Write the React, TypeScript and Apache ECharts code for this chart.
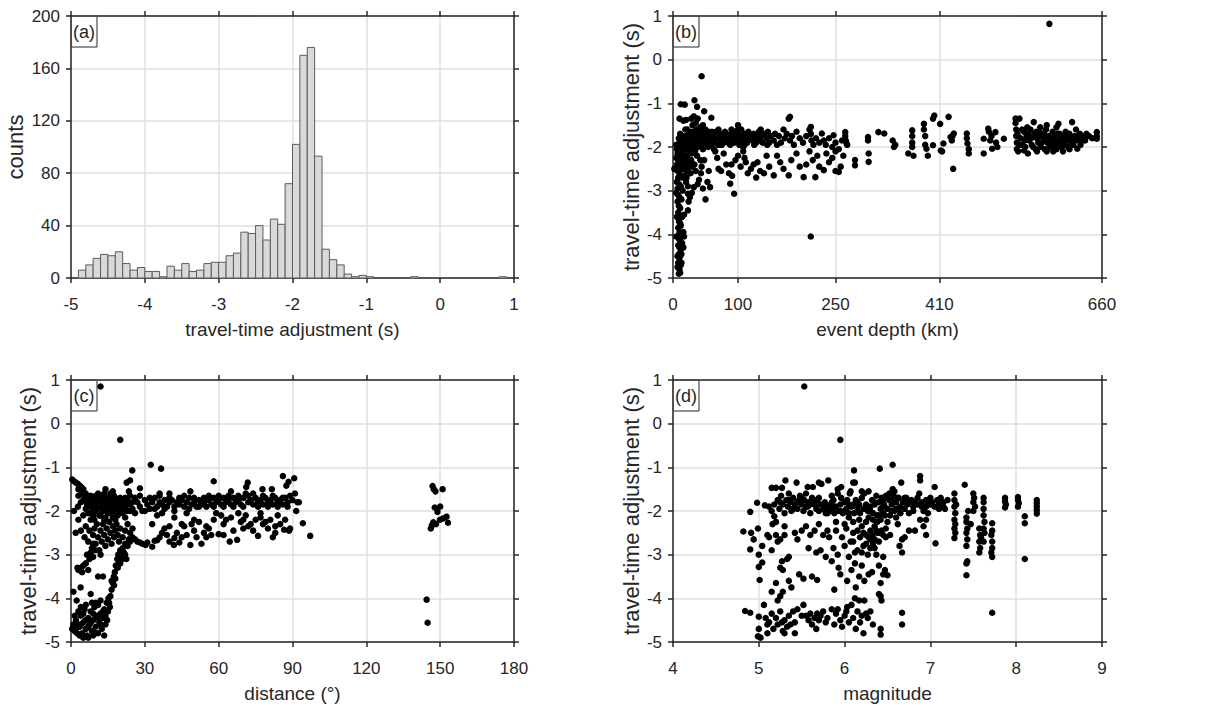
import React, { useEffect, useRef } from "react";
import * as echarts from "echarts";

// ---------- DATA ----------
const histBinLeft = [
  -5.0, -4.9, -4.8, -4.7, -4.6, -4.5, -4.4, -4.3, -4.2, -4.1,
  -4.0, -3.9, -3.8, -3.7, -3.6, -3.5, -3.4, -3.3, -3.2, -3.1,
  -3.0, -2.9, -2.8, -2.7, -2.6, -2.5, -2.4, -2.3, -2.2, -2.1,
  -2.0, -1.9, -1.8, -1.7, -1.6, -1.5, -1.4, -1.3, -1.2, -1.1,
  -1.0, -0.9, -0.8, -0.7, -0.6, -0.5, -0.4, -0.3, -0.2, -0.1,
  0.0, 0.1, 0.2, 0.3, 0.4, 0.5, 0.6, 0.7, 0.8, 0.9,
];
const histBinWidth = 0.1;
const histCounts = [
  0, 6, 10, 15, 18, 17, 20, 11, 6, 8,
  5, 5, 1, 9, 6, 11, 5, 6, 11, 12,
  12, 17, 19, 35, 34, 40, 29, 45, 41, 72,
  102, 170, 176, 93, 22, 14, 10, 3, 1, 2,
  1, 0, 0, 0, 0, 0, 1, 0, 0, 0,
  0, 0, 0, 0, 0, 0, 0, 0, 1, 0,
];

const depthTicks = [0, 100, 250, 410, 660];

// panel (b): [event depth (km), travel-time adjustment (s)]
const depthPoints = [
  [2,-2.5],[5,-1.95],[6,-2.05],[7,-2.15],[5,-2.25],[8,-2.3],[6,-2.4],[9,-2.45],[7,-2.55],[10,-2.6],[8,-2.7],[6,-2.8],[9,-2.85],[7,-2.95],[5,-3.05],[8,-3.1],[10,-3.15],[7,-3.25],[9,-3.35],[11,-3.4],[8,-3.5],[10,-3.6],[9,-3.7],[11,-3.75],[8,-3.85],[10,-3.95],[12,-4.0],[9,-4.1],[11,-4.15],[5,-4.05],[8,-4.25],[10,-4.3],[12,-4.35],[9,-4.45],[11,-4.5],[13,-4.45],[10,-4.6],[8,-4.65],[12,-4.7],[10,-4.8],[11,-4.88],[9,-4.9],[16,-4.3],[17,-4.05],[15,-4.0],[16,-3.95],[14,-3.6],[17,-3.55],[13,-3.2],[15,-3.0],[12,-2.9],[14,-2.7],[13,-2.5],[11,-2.2],[12,-2.0],[10,-1.9],[13,-1.85],[15,-2.1],[16,-2.3],[18,-2.45],[14,-2.35],[11,-1.7],[9,-1.8],[10,-1.35],[12,-1.02],[16,-1.4],[19,-1.6],
  [18,-1.75],[20,-1.9],[21,-2.05],[22,-2.2],[19,-2.0],[23,-1.8],[24,-1.95],[25,-2.1],[26,-1.7],[27,-1.85],[28,-2.0],[29,-2.15],[30,-1.75],[31,-1.9],[32,-1.65],[33,-2.05],[34,-1.8],[35,-1.95],[36,-1.6],[37,-1.75],[38,-1.9],[39,-1.7],[40,-1.85],[41,-1.6],[42,-1.8],[43,-1.95],[44,-1.7],[45,-1.85],[46,-1.65],[47,-1.8],[48,-1.9],[49,-1.75],[50,-1.6],[51,-1.85],[52,-1.7],[53,-1.95],[54,-1.8],[55,-1.65],[56,-1.9],[57,-1.75],[58,-1.85],[59,-1.7],[60,-1.8],
  [20,-2.3],[22,-2.5],[21,-2.7],[23,-2.9],[23,-3.07],[24,-3.25],[23,-3.45],[26,-3.15],[29,-3.05],[32,-2.92],[27,-2.6],[30,-2.45],[25,-2.4],[28,-2.3],[33,-2.4],[35,-2.55],[37,-2.2],[40,-2.75],[43,-2.6],[46,-2.95],[50,-3.2],[53,-2.8],[57,-2.92],[55,-2.55],[48,-2.3],[44,-2.45],[38,-2.85],[42,-2.3],[33,-0.93],[37,-1.08],[18,-1.03],[44,-0.38],[48,-1.18],[59,-1.33],[32,-1.3],[35,-1.45],[30,-1.5],[28,-1.35],[42,-1.55],[25,-1.65],[20,-1.38],[38,-1.35],[46,-1.5],
  [62,-1.75],[64,-1.9],[66,-1.65],[68,-1.8],[70,-1.95],[72,-1.7],[74,-1.85],[76,-1.75],[78,-1.9],[80,-1.8],[82,-1.7],[84,-1.85],[86,-1.75],[88,-1.95],[90,-1.7],[92,-1.8],[94,-1.9],[96,-1.75],[98,-1.85],[100,-1.5],[100,-1.6],[100,-1.7],[101,-1.8],[102,-1.95],[104,-1.75],[106,-1.85],[108,-2.0],[110,-1.7],[112,-1.8],[114,-1.9],[116,-1.65],[118,-1.8],[120,-1.75],[122,-1.85],[124,-1.7],[126,-1.8],[128,-1.9],[130,-1.75],[132,-1.65],[134,-1.85],[136,-1.75],[138,-1.9],[140,-1.7],[144,-1.8],[146,-1.65],[148,-1.9],[150,-1.75],
  [65,-2.1],[70,-2.5],[74,-2.55],[78,-2.15],[82,-2.4],[86,-2.6],[88,-2.84],[90,-2.4],[91,-2.66],[94,-3.07],[96,-2.3],[100,-2.2],[104,-2.45],[108,-2.1],[110,-2.25],[112,-2.35],[115,-2.6],[120,-2.5],[124,-2.4],[128,-2.7],[130,-2.35],[134,-2.55],[140,-2.6],[144,-2.2],[148,-2.45],[63,-2.05],[68,-2.25],
  [155,-1.85],[157,-1.7],[160,-1.95],[163,-1.75],[166,-1.9],[170,-1.6],[172,-1.8],[175,-1.7],[178,-1.35],[180,-1.31],[180,-1.85],[183,-1.75],[186,-1.95],[190,-1.65],[195,-1.8],[200,-1.9],[205,-1.75],[210,-1.6],[212,-1.54],[212,-1.7],[213,-1.85],[216,-1.95],[220,-1.8],[225,-1.9],[229,-1.69],[232,-1.85],[235,-1.95],[240,-1.8],[245,-2.0],[247,-1.73],[250,-1.9],[255,-2.05],[260,-1.85],[265,-1.66],[265,-1.75],[266,-1.85],[267,-1.92],[268,-1.95],[300,-1.77],[300,-1.85],
  [155,-2.65],[160,-2.2],[165,-2.35],[170,-2.5],[178,-2.65],[182,-2.3],[190,-2.15],[195,-2.45],[201,-2.69],[205,-2.4],[210,-2.1],[212,-4.05],[215,-2.3],[219,-2.69],[222,-2.2],[225,-2.45],[232,-2.53],[236,-2.15],[240,-2.35],[245,-2.25],[250,-2.1],[255,-2.57],[258,-2.45],[262,-2.2],[280,-2.42],[280,-2.3],[301,-2.34],[301,-2.15],[250,-2.55],
  [316,-1.66],[325,-1.69],[338,-1.85],[340,-2.0],[342,-1.95],[362,-2.15],[368,-1.62],[368,-1.75],[368,-1.9],[368,-2.0],[370,-2.2],[386,-1.47],[386,-1.6],[388,-1.75],[388,-1.95],[390,-2.04],[392,-2.2],[400,-1.35],[402,-1.28],[400,-1.96],[411,-1.47],[412,-2.08],[414,-2.1],[416,-1.92],[424,-1.31],[427,-1.77],[429,-1.85],[431,-2.5],[432,-1.69],[430,-1.75],[452,-1.69],[452,-1.8],[453,-1.92],[455,-2.15],[455,-2.05],[478,-1.81],[478,-2.15],[485,-1.58],[486,-1.65],[488,-1.85],[490,-1.75],[491,-2.04],[496,-1.66],[499,-2.0],[497,-1.9],[509,-1.81],
  [527,-1.35],[527,-1.45],[528,-1.6],[528,-1.75],[529,-1.9],[529,-2.05],[531,-2.1],[535,-1.8],[538,-1.95],[540,-1.65],[533,-1.35],[542,-2.0],[544,-1.75],[546,-2.15],[548,-1.85],[550,-1.6],[552,-1.95],[555,-1.43],[556,-1.7],[558,-2.05],[560,-1.8],[562,-1.9],[564,-1.65],[566,-2.0],[568,-1.75],[570,-1.85],[572,-2.05],[574,-1.6],[576,-1.9],[578,-1.75],[579,0.82],[580,-2.0],[582,-1.8],[584,-1.65],[586,-1.95],[588,-1.85],[590,-2.05],[592,-1.7],[593,-1.47],[594,-1.9],[596,-1.8],[598,-2.0],[600,-1.75],[602,-1.95],[604,-1.65],[606,-1.85],[608,-2.0],[610,-1.7],[612,-1.9],[614,-1.43],[615,-1.8],[618,-1.75],[620,-1.6],[622,-2.04],[624,-1.85],[626,-1.7],[628,-1.8],[632,-1.77],[634,-1.85],[636,-1.7],[652,-1.66],[652,-1.75],[652,-1.81],[560,-2.1],[575,-2.1],[545,-1.55],[565,-1.55],[585,-2.1],[600,-2.1],[540,-2.08],[610,-2.05],
  [22,-1.6],[24,-1.75],[26,-1.95],[28,-1.8],[30,-1.65],[32,-1.85],[34,-2.1],[36,-1.75],[38,-2.0],[40,-1.7],[42,-1.95],[44,-1.8],[46,-2.05],[48,-1.7],[50,-1.9],[52,-1.8],[54,-2.0],[56,-1.7],[58,-1.95],[60,-1.65],[15,-1.8],[17,-1.95],[19,-2.2],[21,-2.35],[23,-2.55],[20,-2.8],[18,-2.65],[16,-2.5],[14,-2.2],[13,-3.6],[12,-3.8],[14,-4.2],[13,-4.65],[7,-4.5],[6,-3.6],[7,-4.75],[70,-1.6],[75,-1.95],[80,-1.65],[85,-1.9],[90,-1.6],[95,-1.65],[105,-1.6],[110,-1.95],[115,-1.75],[125,-1.95],[135,-1.6],[145,-1.95],
  [530,-1.7],[534,-1.95],[537,-1.6],[541,-1.85],[547,-1.7],[551,-1.8],[554,-2.0],[559,-1.65],[563,-1.75],[567,-1.9],[571,-1.7],[575,-1.8],[579,-1.95],[583,-1.9],[587,-1.75],[591,-1.95],[595,-1.7],[599,-1.85],[603,-1.8],[607,-1.7],[611,-1.8],[616,-1.95],[619,-1.85],[623,-1.75],[627,-1.95],[630,-1.85],[640,-1.75],[645,-1.8],[575,-1.5],[590,-1.55],
];

// panel (c): [distance (deg), travel-time adjustment (s)]
const distancePoints = [
  [0.5,-1.28],[1.2,-1.32],[2,-1.35],[2.8,-1.38],[3.5,-1.42],[4.2,-1.45],[5,-1.5],[4.5,-1.6],[5.5,-1.65],[6,-1.7],[3,-1.5],[7,-1.75],[6.5,-1.85],[8,-1.8],[9,-1.75],[8.5,-1.9],[10,-1.85],[10.5,-1.7],[11,-1.95],[12,-1.8],[12.5,-1.9],[13,-1.75],[13.5,-1.6],[14,-1.85],[14.5,-1.95],[15,-1.7],[15.5,-1.8],[16,-1.9],[16.5,-1.75],[17,-2.0],[17.5,-1.65],[18,-1.85],[18.5,-1.95],[19,-1.75],[19.5,-1.85],[20,-2.0],[21,-1.8],[22,-1.9],[23,-1.75],[24,-1.85],[25,-1.95],[26,-1.7],[27,-1.8],[28,-1.9],[29,-2.0],[30,-1.75],[31,-1.85],[32,-1.95],[33,-1.8],[34,-1.7],[35,-1.9],[36,-1.8],[37,-1.85],[38,-1.75],[39,-1.9],[40,-1.8],[41,-1.75],[42,-1.9],[43,-1.8],[44,-1.85],[45,-1.75],[46,-1.9],[47,-1.8],[48,-1.7],[49,-1.85],[50,-1.8],[51,-1.9],[52,-1.75],[53,-1.85],[54,-1.8],[55,-1.9],[56,-1.75],[57,-1.85],[58,-1.7],[59,-1.8],[60,-1.75],[61,-1.85],[62,-1.7],[63,-1.8],[64,-1.75],[65,-1.85],[66,-1.7],[67,-1.8],[68,-1.75],[69,-1.85],[70,-1.7],[71,-1.6],[72,-1.8],[73,-1.75],[74,-1.85],[75,-1.7],[76,-1.8],[77,-1.75],[78,-1.85],[79,-1.7],[80,-1.8],[81,-1.75],[82,-1.85],[83,-1.7],[84,-1.8],[85,-1.75],[86,-1.85],[87,-1.7],[88,-1.8],[89,-1.65],[90,-1.75],[91,-1.6],[92,-1.8],
  [6,-1.95],[7,-2.05],[8,-1.65],[9,-2.1],[10,-2.0],[11,-1.6],[12,-2.1],[13,-2.0],[14,-2.15],[15,-2.05],[16,-1.6],[17,-2.15],[18,-2.2],[19,-2.1],[20,-1.7],[21,-2.05],[22,-2.15],[23,-2.0],[24,-1.65],[26,-2.05],[28,-1.65],[30,-2.0],[32,-1.7],[34,-1.95],[36,-1.65],[38,-1.95],[40,-1.7],[42,-2.0],[44,-1.7],[46,-1.65],[48,-1.95],[50,-1.7],[52,-1.9],[54,-1.7],[56,-1.65],[58,-1.9],[60,-1.65],[62,-1.9],[64,-1.65],[66,-1.9],[68,-1.65],[70,-1.9],[72,-1.65],[74,-1.6],[76,-1.9],[78,-1.65],[80,-1.9],[82,-1.65],[84,-1.9],[86,-1.7],[88,-1.9],
  [12,0.85],[20,-0.37],[32.4,-0.94],[36.6,-1.03],[24.9,-1.07],[22.6,-1.35],[24,-1.3],[28,-1.48],[23.5,-1.55],[58,-1.32],[71.2,-1.45],[71.8,-1.35],[77.8,-1.5],[81.6,-1.5],[48.5,-1.55],[86.1,-1.2],[88.4,-1.33],[90.7,-1.25],[87.5,-1.42],[91.5,-2.0],[92.6,-1.8],[94.2,-2.28],[97.2,-2.57],[14,-1.5],[17,-1.55],[40,-1.6],[65,-1.55],[36,-1.6],
  [1.2,-2.0],[2.8,-1.9],[1.9,-2.5],[3,-2.2],[4,-2.45],[5,-2.1],[5.5,-2.6],[6,-2.35],[7,-2.7],[7.5,-2.45],[8,-2.2],[8.5,-2.85],[9,-2.55],[9.5,-2.4],[10,-2.75],[10.5,-2.3],[11,-2.6],[11.5,-2.9],[12,-2.45],[12.5,-2.7],[13,-2.3],[13.5,-2.55],[14,-2.8],[14.5,-2.4],[15,-2.65],[15.5,-2.25],[16,-2.5],[16.5,-2.75],[17,-2.35],[17.5,-2.6],[18,-2.45],[18.5,-2.3],[19,-2.55],[19.5,-2.7],[20,-2.4],[21,-2.6],[22,-2.45],[23,-2.3],[24,-2.5],[25,-2.4],[6.5,-3.0],[7.5,-3.1],[8,-2.95],[9,-2.75],[5,-3.25],[4,-3.3],[3,-3.35],[11,-3.5],[13,-3.5],
  [14.7,-4.5],[15,-4.3],[15.5,-4.1],[16,-3.95],[16.5,-3.8],[17,-3.65],[17.4,-3.5],[17.8,-3.4],[18.2,-3.25],[18.8,-3.1],[19.2,-3.0],[19.5,-3.15],[20,-2.9],[20.5,-3.05],[21,-2.85],[21.5,-2.95],[22,-2.75],[22.5,-3.1],[23,-2.8],[23.5,-2.65],[24,-2.7],[25,-2.6],[16.5,-3.6],[17.5,-3.7],[18,-3.55],[19,-3.3],[20,-3.2],[21,-3.1],[22,-3.0],[15.8,-4.2],[15.2,-4.0],
  [26,-2.65],[27,-2.7],[28,-2.72],[29,-2.75],[30.3,-2.78],[31,-2.72],[33,-2.82],[34,-2.68],[35,-2.67],[36,-2.6],[37,-2.5],[38,-2.4],[39,-2.55],[40,-2.7],[41.8,-2.78],[42,-2.62],[43,-2.5],[44,-2.72],[45,-2.6],[46,-2.35],[47,-2.55],[48.5,-2.78],[49,-2.3],[50,-2.45],[51,-2.6],[52,-2.25],[53,-2.75],[54,-2.5],[55,-2.6],[56,-2.4],[57,-2.55],[58,-2.2],[59,-2.05],[60,-2.53],[61,-2.1],[62,-2.3],[63,-2.2],[64.5,-2.7],[65,-2.15],[66,-2.45],[67.5,-2.66],[68,-2.05],[69,-2.25],[70,-2.4],[71,-2.1],[72,-2.35],[73,-2.3],[74,-2.45],[75,-2.2],[76,-2.57],[77,-2.15],[78,-2.3],[79,-2.25],[80,-2.4],[81,-2.2],[82,-2.6],[83,-2.35],[84,-2.1],[85,-2.3],[86.6,-2.43],[87,-2.2],[88.6,-2.45],[89,-2.4],[45,-2.3],[50,-2.2],[55,-2.35],[40,-2.35],[35,-2.1],[33,-2.3],[42,-2.15],[47,-2.05],[37,-2.05],[62,-2.55],[70,-2.2],[77,-2.05],[83,-2.5],
  [0.5,-4.7],[1,-4.6],[1.5,-4.75],[2,-4.5],[2.3,-4.05],[1,-3.85],[3.9,-3.75],[2.6,-3.3],[3,-4.3],[3.5,-4.65],[4,-4.4],[4.5,-4.8],[5,-4.55],[5.5,-4.25],[6,-4.7],[6.5,-4.85],[7,-4.45],[7.5,-4.6],[8,-4.3],[8.5,-4.75],[9,-4.5],[9.5,-4.2],[10,-4.65],[10.5,-4.4],[11,-4.8],[11.5,-4.55],[12,-4.35],[12.5,-4.7],[13,-4.45],[13.5,-4.25],[14,-4.6],[14.5,-4.1],[8,-3.9],[6,-4.15],[10,-4.1],[5,-4.9],[7,-4.9],[9,-4.85],[11,-4.15],[12,-4.05],[4,-4.2],[3,-4.6],[2.5,-4.8],[13.5,-4.85],
  [146.9,-1.43],[147.4,-1.5],[148.1,-1.55],[151,-1.5],[147.8,-1.92],[150,-1.9],[148.9,-2.02],[147.2,-2.26],[146.6,-2.33],[146.2,-2.4],[149.9,-2.2],[151.2,-2.17],[152.6,-2.13],[153.2,-2.27],[144.5,-4.03],[144.9,-4.56],[148.3,-2.3],
  [5,-1.75],[6,-1.6],[7,-1.9],[8,-2.05],[9,-1.95],[10,-1.65],[11,-1.8],[12,-1.65],[13,-1.9],[14,-1.7],[15,-1.9],[16,-2.05],[17,-1.85],[18,-1.7],[19,-1.95],[20,-1.85],[21,-1.95],[22,-1.7],[23,-1.85],[24,-2.0],[25,-1.8],[3,-1.65],[4,-1.8],[9.5,-2.2],[11.5,-2.1],[13.5,-2.2],[18.5,-2.1],
  [1.5,-4.4],[2,-4.7],[4,-4.6],[5,-4.35],[6,-4.5],[7,-4.65],[8,-4.55],[9,-4.35],[10,-4.8],[11,-4.45],[12,-4.6],[13,-4.3],[8.5,-4.1],[3.5,-4.85],[14,-4.4],
  [10,-2.9],[12,-3.0],[9,-3.05],[7,-3.35],[4.5,-3.4],[6,-3.2],
];

// panel (d): [magnitude, travel-time adjustment (s)]
const magnitudePoints = [
  [5.12,-1.9],[5.15,-2.0],[5.18,-1.85],[5.2,-1.47],[5.22,-1.75],[5.24,-1.95],[5.26,-1.65],[5.27,-1.47],[5.28,-1.85],[5.3,-2.05],[5.31,-1.3],[5.32,-1.75],[5.34,-1.9],[5.35,-1.6],[5.37,-1.8],[5.38,-2.0],[5.4,-1.7],[5.42,-1.85],[5.44,-1.35],[5.45,-1.95],[5.47,-1.75],[5.48,-1.65],[5.5,-1.85],[5.52,-2.0],[5.53,-1.75],[5.55,-1.6],[5.57,-1.9],[5.58,-1.8],[5.6,-2.05],[5.62,-1.7],[5.63,-1.45],[5.65,-1.85],[5.67,-1.95],[5.68,-1.75],[5.7,-2.0],[5.72,-1.85],[5.73,-1.38],[5.75,-1.95],[5.77,-1.8],[5.78,-2.05],[5.8,-1.9],[5.81,-1.3],[5.82,-2.0],[5.84,-1.85],[5.86,-1.95],[5.87,-1.75],[5.88,-2.05],[5.9,-1.9],[5.92,-1.6],[5.93,-2.0],[5.95,-1.85],[5.96,-1.7],[5.98,-2.05],[6.0,-1.8],[6.02,-1.95],[6.03,-1.75],[6.05,-2.05],[6.06,-1.6],[6.08,-1.9],[6.1,-1.85],[6.11,-2.05],[6.12,-1.35],[6.13,-1.75],[6.15,-1.95],[6.17,-1.85],[6.18,-2.05],[6.2,-1.7],[6.22,-1.95],[6.23,-1.6],[6.25,-1.85],[6.27,-2.0],[6.28,-1.55],[6.3,-1.9],[6.32,-1.75],[6.33,-2.05],[6.35,-1.85],[6.37,-1.65],[6.38,-2.1],[6.4,-1.8],[6.42,-1.95],[6.43,-1.7],[6.45,-2.05],[6.46,-1.85],[6.48,-1.65],[6.5,-1.95],[6.52,-1.75],[6.53,-2.1],[6.55,-1.85],[6.56,-1.5],[6.57,-1.65],[6.58,-2.0],[6.6,-1.8],[6.62,-1.95],[6.63,-1.7],[6.65,-2.05],[6.66,-1.35],[6.68,-1.8],[6.7,-1.95],[6.72,-1.7],[6.73,-1.85],[6.75,-2.05],[6.78,-1.75],[6.8,-1.9],[6.82,-1.8],[6.85,-1.7],[6.87,-1.6],[6.88,-1.2],[6.88,-1.3],[6.9,-1.8],[6.92,-2.0],[6.95,-1.75],[6.97,-1.85],[7.0,-1.7],[7.02,-1.8],[7.05,-1.45],[7.05,-1.9],[7.08,-1.75],[7.1,-1.85],[7.12,-1.7],[7.15,-1.8],[7.17,-1.95],[7.2,-1.75],
  [5.25,-1.8],[5.35,-1.75],[5.45,-1.8],[5.55,-1.9],[5.65,-1.75],[5.75,-1.85],[5.85,-1.8],[5.95,-2.0],[6.05,-1.85],[6.15,-1.8],[6.25,-1.95],[6.35,-1.8],[6.45,-1.9],[6.55,-1.75],[6.65,-1.9],[6.75,-1.8],[6.85,-1.85],[6.95,-1.9],[7.1,-1.95],[6.52,-1.6],[6.58,-1.55],[6.47,-2.1],[6.6,-2.15],[6.42,-2.2],[6.5,-2.25],[6.62,-2.3],[6.48,-2.4],
  [5.53,0.85],[5.95,-0.37],[6.41,-1.03],[6.56,-0.94],[6.11,-1.07],[5.15,-1.47],[5.57,-1.45],[5.7,-1.35],[5.92,-1.5],[5.96,-1.45],[6.07,-1.55],[6.2,-1.55],[6.1,-1.35],
  [7.28,-1.6],[7.28,-1.75],[7.28,-1.9],[7.29,-2.05],[7.28,-2.2],[7.29,-2.3],[7.28,-2.4],[7.29,-2.5],[7.28,-2.62],[7.3,-1.85],
  [7.4,-1.4],[7.42,-2.15],[7.42,-2.25],[7.43,-2.4],[7.42,-2.5],[7.43,-2.65],[7.42,-2.8],[7.43,-3.15],[7.42,-3.2],[7.42,-3.47],[7.44,-2.0],
  [7.5,-1.6],[7.51,-1.7],[7.5,-1.8],[7.52,-1.9],[7.5,-2.0],[7.47,-2.3],
  [7.57,-2.4],[7.58,-2.55],[7.57,-2.7],[7.58,-2.85],[7.57,-2.95],[7.59,-2.6],
  [7.62,-1.7],[7.62,-1.8],[7.62,-1.95],[7.62,-2.1],[7.63,-2.25],[7.62,-2.4],[7.63,-2.5],[7.62,-2.7],
  [7.72,-2.28],[7.72,-2.45],[7.71,-2.55],[7.72,-2.7],[7.72,-2.85],[7.71,-2.95],[7.72,-3.05],[7.72,-4.33],
  [7.87,-1.7],[7.87,-1.78],[7.88,-1.85],[7.87,-1.92],
  [8.02,-1.68],[8.02,-1.75],[8.03,-1.82],[8.02,-1.9],
  [8.1,-2.12],[8.1,-2.28],[8.1,-3.1],
  [8.24,-1.75],[8.24,-1.82],[8.24,-1.9],[8.24,-1.98],[8.24,-2.06],
  [6.95,-2.2],[6.92,-2.35],[6.95,-2.55],[7.06,-2.74],[6.88,-2.2],[6.97,-2.05],[6.82,-2.45],[6.75,-2.45],[6.7,-2.6],[6.67,-2.65],[6.64,-2.8],[6.67,-2.95],
  [4.82,-2.47],[4.84,-4.29],[4.9,-4.33],[4.9,-2.02],[4.91,-2.5],[4.9,-2.88],[4.94,-2.65],[4.98,-1.81],[4.99,-2.4],[5.0,-3.0],[5.0,-3.28],[5.01,-3.58],[4.99,-4.87],[5.0,-4.7],[5.0,-4.42],[5.06,-4.15],[5.04,-3.18],[5.04,-2.8],[5.07,-1.87],[5.1,-2.55],[5.12,-2.6],[5.15,-2.9],[5.16,-2.3],[5.18,-2.12],[5.2,-2.55],[5.22,-2.7],[5.25,-2.65],[5.27,-3.15],[5.28,-3.35],[5.25,-3.3],[5.15,-3.85],[5.2,-3.65],[5.22,-4.05],[5.25,-3.95],[5.28,-3.85],[5.33,-3.1],[5.35,-3.05],[5.35,-3.6],[5.38,-3.75],[5.3,-2.55],[5.3,-2.35],[5.2,-2.25],
  [5.42,-2.5],[5.45,-2.65],[5.47,-3.45],[5.5,-2.45],[5.52,-3.55],[5.55,-2.35],[5.58,-2.85],[5.6,-2.55],[5.62,-3.5],[5.65,-2.45],[5.67,-2.95],[5.68,-3.58],[5.7,-2.3],[5.72,-2.9],[5.75,-2.55],[5.78,-3.05],[5.8,-2.45],[5.82,-2.6],[5.85,-3.15],[5.87,-2.85],[5.88,-3.8],[5.9,-2.45],[5.92,-3.0],[5.93,-3.3],[5.95,-3.45],[5.97,-2.6],[6.0,-2.8],[6.02,-2.4],[6.03,-3.6],[6.05,-3.05],[6.07,-2.7],[6.08,-3.35],[6.1,-2.5],[6.12,-3.2],[6.13,-3.75],[6.15,-2.9],[6.17,-3.5],[6.18,-2.6],[6.2,-3.25],[6.22,-2.8],[6.23,-3.6],[6.25,-2.55],[6.27,-3.0],[6.28,-3.45],[6.3,-2.65],[6.32,-3.4],[6.33,-2.75],[6.35,-2.85],[6.37,-3.0],[6.38,-2.5],[6.4,-3.25],[6.42,-3.65],[6.43,-2.45],[6.45,-3.05],[6.47,-3.35],[6.48,-2.6],[6.5,-3.47],[6.53,-2.55],[6.1,-2.25],[6.2,-2.35],[6.3,-2.45],[6.0,-2.3],[5.9,-2.25],[6.25,-2.25],[6.35,-2.35],[6.4,-2.5],
  [5.08,-4.45],[5.1,-4.6],[5.1,-4.8],[5.12,-4.55],[5.15,-4.35],[5.17,-4.7],[5.2,-4.45],[5.22,-4.6],[5.25,-4.3],[5.27,-4.55],[5.28,-4.75],[5.3,-4.5],[5.33,-4.65],[5.35,-4.4],[5.37,-4.6],[5.4,-4.3],[5.42,-4.55],[5.42,-4.8],[5.45,-4.25],[5.5,-4.4],[5.52,-4.15],[5.55,-4.4],[5.58,-4.5],[5.6,-4.35],[5.62,-4.6],[5.65,-4.45],[5.67,-4.7],[5.68,-4.35],[5.7,-4.5],[5.72,-4.4],[5.75,-4.3],[5.78,-4.55],[5.8,-4.45],[5.85,-4.25],[5.88,-4.6],[5.9,-4.35],[5.92,-4.25],[5.95,-4.5],[5.97,-4.65],[6.0,-4.4],[6.02,-4.3],[6.03,-4.2],[6.05,-4.55],[6.08,-4.15],[6.1,-4.45],[6.12,-4.0],[6.13,-4.7],[6.15,-4.3],[6.17,-4.05],[6.18,-4.55],[6.2,-4.4],[6.22,-4.8],[6.23,-4.05],[6.25,-4.35],[6.27,-4.45],[6.3,-4.3],[6.33,-4.6],[6.4,-3.9],[6.42,-3.95],[6.43,-4.05],[6.42,-4.7],[6.42,-4.83],[6.67,-4.33],[6.67,-4.6],[6.45,-3.45],[5.3,-4.8],[5.02,-4.9],
  [6.05,-2.15],[6.1,-2.7],[6.12,-2.95],[6.15,-2.45],[6.17,-2.2],[6.2,-2.95],[6.22,-2.5],[6.25,-2.75],[6.28,-2.6],[6.3,-2.85],[6.32,-2.55],[6.35,-2.65],[6.37,-2.45],[6.4,-2.7],[6.45,-2.55],[6.28,-2.15],[6.33,-2.2],[6.38,-2.25],[6.55,-2.0],[6.6,-1.95],[6.62,-1.7],[6.5,-1.7],[6.45,-1.75],[6.4,-2.1],[5.4,-1.95],[5.5,-1.7],[5.6,-1.85],[5.7,-1.7],[5.8,-2.05],[5.85,-1.65],[6.0,-2.0],[6.3,-2.0],[6.7,-1.7],[6.8,-2.0],[6.9,-1.9],[7.0,-1.85],[7.15,-1.9],
];

// ---------- STYLE ----------
const FONT = "'Liberation Sans', Arial, Helvetica, sans-serif";
const INK = "#262626";
const GRIDC = "#dfdfdf";

const grids = [
  { left: 71, top: 16, width: 443, height: 262 },
  { left: 673, top: 16, width: 429, height: 262 },
  { left: 71, top: 380, width: 443, height: 262 },
  { left: 673, top: 380, width: 429, height: 262 },
];

function xPair(gi: number, min: number, max: number, interval: number | undefined, name: string, custom?: number[]) {
  const base: any = {
    type: "value", gridIndex: gi, min, max, interval,
    axisLine: { show: true, onZero: false, lineStyle: { color: INK, width: 1.5 } },
    axisTick: { show: true, inside: false, length: 5, lineStyle: { color: INK, width: 1.5 } },
    splitLine: { show: true, lineStyle: { color: GRIDC, width: 1.5 } },
  };
  if (custom) {
    base.axisTick.customValues = custom;
  }
  const bottom = {
    ...base, position: "bottom", name, nameLocation: "middle", nameGap: 42,
    nameTextStyle: { fontFamily: FONT, fontSize: 19, color: INK },
    axisLabel: { show: true, margin: 18, fontFamily: FONT, fontSize: 17, color: INK, ...(custom ? { customValues: custom } : {}) },
  };
  const top = {
    ...base, position: "top", splitLine: { show: false },
    axisLabel: { show: false },
  };
  return [bottom, top];
}

function yPair(gi: number, min: number, max: number, interval: number, name: string, nameGap: number) {
  const base: any = {
    type: "value", gridIndex: gi, min, max, interval,
    axisLine: { show: true, onZero: false, lineStyle: { color: INK, width: 1.5 } },
    axisTick: { show: true, inside: false, length: 5, lineStyle: { color: INK, width: 1.5 } },
    splitLine: { show: true, lineStyle: { color: GRIDC, width: 1.5 } },
  };
  const left = {
    ...base, position: "left", name, nameLocation: "middle", nameGap,
    nameTextStyle: { fontFamily: FONT, fontSize: 22, color: INK },
    axisLabel: { show: true, margin: 11, fontFamily: FONT, fontSize: 17, color: INK },
  };
  const right = { ...base, position: "right", splitLine: { show: false }, axisLabel: { show: false } };
  return [left, right];
}

function panelLabel(text: string, x: number, y: number) {
  return {
    type: "group", x, y, z: 100,
    children: [
      { type: "rect", shape: { x: 0, y: 0, width: 26, height: 31 }, style: { fill: "#fff", stroke: INK, lineWidth: 1 } },
      { type: "text", x: 13, y: 16, style: { text: text, fontFamily: FONT, fontSize: 18, fill: INK, align: "center", verticalAlign: "middle" } },
    ],
  };
}

const histData = histBinLeft.map((l, i) => [l, l + histBinWidth, histCounts[i]]);

export default function App() {
  const ref = useRef<HTMLDivElement>(null);
  useEffect(() => {
    document.body.style.margin = "0";
    if (!ref.current) return;
    const chart = echarts.init(ref.current, undefined, { renderer: "svg" });
    const xAxes = [
      ...xPair(0, -5, 1, 1, "travel-time adjustment (s)"),
      ...xPair(1, 0, 660, undefined, "event depth (km)", depthTicks),
      ...xPair(2, 0, 180, 30, "distance (°)"),
      ...xPair(3, 4, 9, 1, "magnitude"),
    ];
    const yAxes = [
      ...yPair(0, 0, 200, 40, "counts", 45),
      ...yPair(1, -5, 1, 1, "travel-time adjustment (s)", 30),
      ...yPair(2, -5, 1, 1, "travel-time adjustment (s)", 32),
      ...yPair(3, -5, 1, 1, "travel-time adjustment (s)", 30),
    ];
    const dot = { type: "scatter", symbol: "circle", symbolSize: 6.5, itemStyle: { color: "#000", opacity: 1 }, silent: true } as any;
    chart.setOption({
      animation: false,
      backgroundColor: "#fff",
      grid: grids,
      xAxis: xAxes,
      yAxis: yAxes,
      series: [
        {
          type: "custom", xAxisIndex: 0, yAxisIndex: 0, data: histData, encode: { x: [0, 1], y: 2 },
          renderItem: (params: any, api: any) => {
            const c = api.value(2);
            if (!c) return null;
            const p0 = api.coord([api.value(0), c]);
            const p1 = api.coord([api.value(1), 0]);
            return {
              type: "rect",
              shape: { x: p0[0], y: p0[1], width: p1[0] - p0[0], height: p1[1] - p0[1] },
              style: { fill: "#d9d9d9", stroke: "#5c5c5c", lineWidth: 1 },
            };
          },
        },
        { ...dot, xAxisIndex: 2, yAxisIndex: 2, data: depthPoints },
        { ...dot, xAxisIndex: 4, yAxisIndex: 4, data: distancePoints },
        { ...dot, xAxisIndex: 6, yAxisIndex: 6, data: magnitudePoints },
      ],
      graphic: [
        panelLabel("(a)", 71, 16),
        panelLabel("(b)", 673, 16),
        panelLabel("(c)", 71, 380),
        panelLabel("(d)", 673, 380),
      ],
    });
    return () => chart.dispose();
  }, []);
  return <div ref={ref} style={{ width: 1221, height: 709 }} />;
}
